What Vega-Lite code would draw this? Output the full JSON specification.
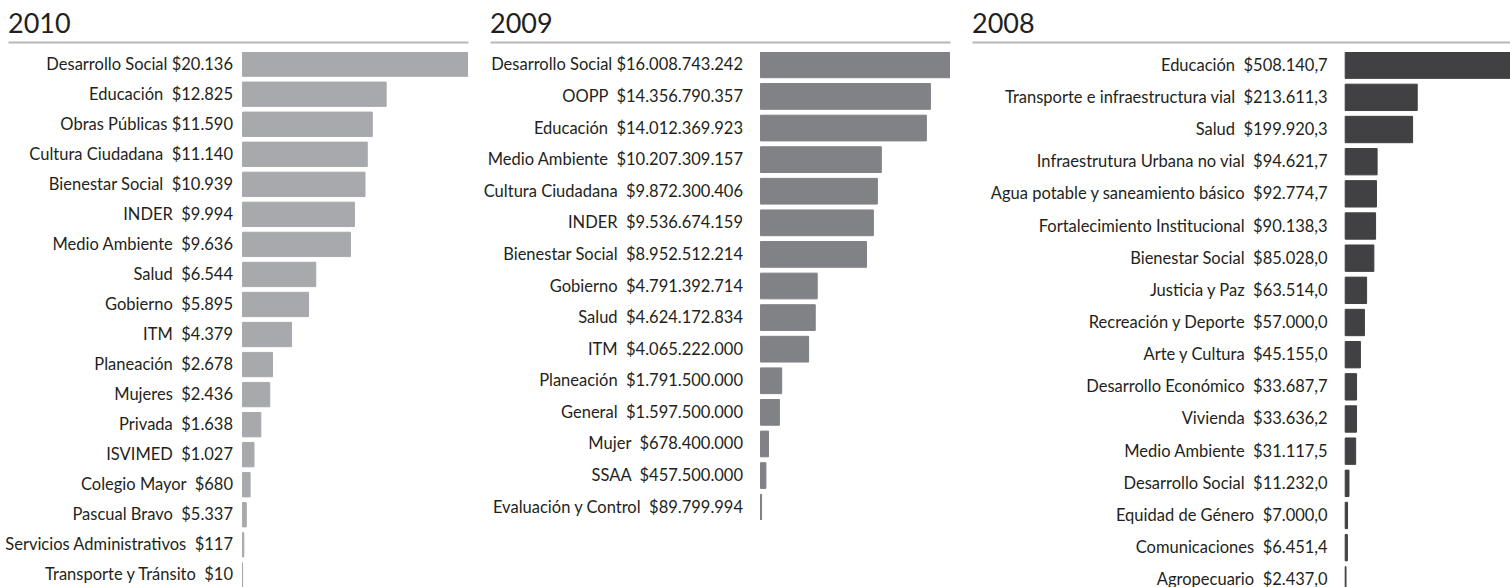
{
  "$schema": "https://vega.github.io/schema/vega-lite/v6.json",
  "padding": {"left": 4, "top": 11, "right": 0, "bottom": 0},
  "bounds": "flush",
  "spacing": 22,
  "config": {
    "view": {"stroke": null},
    "font": "Lato",
    "title": {"fontSize": 27, "fontWeight": "normal", "color": "#231f20", "font": "Lato", "anchor": "start", "frame": "group", "offset": 3}
  },
  "datasets": {
    "y2010": [
      {"area": "Desarrollo Social", "valor": 20136, "etiqueta": "Desarrollo Social $20.136"},
      {"area": "Educación", "valor": 12825, "etiqueta": "Educación\u00a0 $12.825"},
      {"area": "Obras Públicas", "valor": 11590, "etiqueta": "Obras Públicas $11.590"},
      {"area": "Cultura Ciudadana", "valor": 11140, "etiqueta": "Cultura Ciudadana\u00a0 $11.140"},
      {"area": "Bienestar Social", "valor": 10939, "etiqueta": "Bienestar Social\u00a0 $10.939"},
      {"area": "INDER", "valor": 9994, "etiqueta": "INDER\u00a0 $9.994"},
      {"area": "Medio Ambiente", "valor": 9636, "etiqueta": "Medio Ambiente\u00a0 $9.636"},
      {"area": "Salud", "valor": 6544, "etiqueta": "Salud\u00a0 $6.544"},
      {"area": "Gobierno", "valor": 5895, "etiqueta": "Gobierno\u00a0 $5.895"},
      {"area": "ITM", "valor": 4379, "etiqueta": "ITM\u00a0 $4.379"},
      {"area": "Planeación", "valor": 2678, "etiqueta": "Planeación\u00a0 $2.678"},
      {"area": "Mujeres", "valor": 2436, "etiqueta": "Mujeres\u00a0 $2.436"},
      {"area": "Privada", "valor": 1638, "etiqueta": "Privada\u00a0 $1.638"},
      {"area": "ISVIMED", "valor": 1027, "etiqueta": "ISVIMED\u00a0 $1.027"},
      {"area": "Colegio Mayor", "valor": 680, "etiqueta": "Colegio Mayor\u00a0 $680"},
      {"area": "Pascual Bravo", "valor": 337, "etiqueta": "Pascual Bravo\u00a0 $5.337"},
      {"area": "Servicios Administrativos", "valor": 117, "etiqueta": "Servicios Administrativos\u00a0 $117"},
      {"area": "Transporte y Tránsito", "valor": 10, "etiqueta": "Transporte y Tránsito\u00a0 $10"}
    ],
    "y2009": [
      {"area": "Desarrollo Social", "valor": 16008743242, "etiqueta": "Desarrollo Social $16.008.743.242"},
      {"area": "OOPP", "valor": 14356790357, "etiqueta": "OOPP\u00a0 $14.356.790.357"},
      {"area": "Educación", "valor": 14012369923, "etiqueta": "Educación\u00a0 $14.012.369.923"},
      {"area": "Medio Ambiente", "valor": 10207309157, "etiqueta": "Medio Ambiente\u00a0 $10.207.309.157"},
      {"area": "Cultura Ciudadana", "valor": 9872300406, "etiqueta": "Cultura Ciudadana\u00a0 $9.872.300.406"},
      {"area": "INDER", "valor": 9536674159, "etiqueta": "INDER\u00a0 $9.536.674.159"},
      {"area": "Bienestar Social", "valor": 8952512214, "etiqueta": "Bienestar Social\u00a0 $8.952.512.214"},
      {"area": "Gobierno", "valor": 4791392714, "etiqueta": "Gobierno\u00a0 $4.791.392.714"},
      {"area": "Salud", "valor": 4624172834, "etiqueta": "Salud\u00a0 $4.624.172.834"},
      {"area": "ITM", "valor": 4065222000, "etiqueta": "ITM\u00a0 $4.065.222.000"},
      {"area": "Planeación", "valor": 1791500000, "etiqueta": "Planeación\u00a0 $1.791.500.000"},
      {"area": "General", "valor": 1597500000, "etiqueta": "General\u00a0 $1.597.500.000"},
      {"area": "Mujer", "valor": 678400000, "etiqueta": "Mujer\u00a0 $678.400.000"},
      {"area": "SSAA", "valor": 457500000, "etiqueta": "SSAA\u00a0 $457.500.000"},
      {"area": "Evaluación y Control", "valor": 89799994, "etiqueta": "Evaluación y Control\u00a0 $89.799.994"}
    ],
    "y2008": [
      {"area": "Educación", "valor": 508140.7, "etiqueta": "Educación\u00a0 $508.140,7"},
      {"area": "Transporte e infraestructura vial", "valor": 213611.3, "etiqueta": "Transporte e infraestructura vial\u00a0 $213.611,3"},
      {"area": "Salud", "valor": 199920.3, "etiqueta": "Salud\u00a0 $199.920,3"},
      {"area": "Infraestrutura Urbana no vial", "valor": 94621.7, "etiqueta": "Infraestrutura Urbana no vial\u00a0 $94.621,7"},
      {"area": "Agua potable y saneamiento básico", "valor": 92774.7, "etiqueta": "Agua potable y saneamiento básico\u00a0 $92.774,7"},
      {"area": "Fortalecimiento Institucional", "valor": 90138.3, "etiqueta": "Fortalecimiento Institucional\u00a0 $90.138,3"},
      {"area": "Bienestar Social", "valor": 85028.0, "etiqueta": "Bienestar Social\u00a0 $85.028,0"},
      {"area": "Justicia y Paz", "valor": 63514.0, "etiqueta": "Justicia y Paz\u00a0 $63.514,0"},
      {"area": "Recreación y Deporte", "valor": 57000.0, "etiqueta": "Recreación y Deporte\u00a0 $57.000,0"},
      {"area": "Arte y Cultura", "valor": 45155.0, "etiqueta": "Arte y Cultura\u00a0 $45.155,0"},
      {"area": "Desarrollo Económico", "valor": 33687.7, "etiqueta": "Desarrollo Económico\u00a0 $33.687,7"},
      {"area": "Vivienda", "valor": 33636.2, "etiqueta": "Vivienda\u00a0 $33.636,2"},
      {"area": "Medio Ambiente", "valor": 31117.5, "etiqueta": "Medio Ambiente\u00a0 $31.117,5"},
      {"area": "Desarrollo Social", "valor": 11232.0, "etiqueta": "Desarrollo Social\u00a0 $11.232,0"},
      {"area": "Equidad de Género", "valor": 7000.0, "etiqueta": "Equidad de Género\u00a0 $7.000,0"},
      {"area": "Comunicaciones", "valor": 6451.4, "etiqueta": "Comunicaciones\u00a0 $6.451,4"},
      {"area": "Agropecuario", "valor": 2437.0, "etiqueta": "Agropecuario\u00a0 $2.437,0"}
    ]
  },
  "hconcat": [
    {
      "data": {"name": "y2010"},
      "width": 460,
      "height": 535,
      "title": {"text": "2010"},
      "encoding": {
        "y": {"field": "area", "type": "nominal", "sort": null, "axis": null, "scale": {"paddingInner": 0.19, "paddingOuter": 0}}
      },
      "layer": [
        {
          "mark": {"type": "bar", "color": "#a7a9ac", "stroke": "#a7a9ac", "strokeWidth": 1, "clip": true},
          "encoding": {
            "x": {"field": "valor", "type": "quantitative", "scale": {"domain": [-20939, 20136], "nice": false, "zero": false},
              "axis": {"orient": "top", "title": null, "labels": false, "ticks": false, "grid": false, "domainColor": "#b8b8b8", "domainWidth": 2, "offset": 10}}
          }
        },
        {
          "mark": {"type": "text", "align": "right", "baseline": "middle", "dx": -9.5, "dy": 0.5, "fontSize": 16.5, "color": "#231f20"},
          "encoding": {
            "x": {"datum": 0, "type": "quantitative",
              "axis": {"orient": "top", "title": null, "labels": false, "ticks": false, "grid": false, "domainColor": "#b8b8b8", "domainWidth": 2, "offset": 10}},
            "text": {"field": "etiqueta"}
          }
        }
      ]
    },
    {
      "data": {"name": "y2009"},
      "width": 460,
      "height": 468,
      "title": {"text": "2009"},
      "encoding": {
        "y": {"field": "area", "type": "nominal", "sort": null, "axis": null, "scale": {"paddingInner": 0.186, "paddingOuter": 0}}
      },
      "layer": [
        {
          "mark": {"type": "bar", "color": "#808285", "stroke": "#808285", "strokeWidth": 1, "clip": true},
          "encoding": {
            "x": {"field": "valor", "type": "quantitative", "scale": {"domain": [-22851530000, 16008743242], "nice": false, "zero": false},
              "axis": {"orient": "top", "title": null, "labels": false, "ticks": false, "grid": false, "domainColor": "#b8b8b8", "domainWidth": 2, "offset": 10}}
          }
        },
        {
          "mark": {"type": "text", "align": "right", "baseline": "middle", "dx": -17.5, "dy": 0.5, "fontSize": 16.5, "color": "#231f20"},
          "encoding": {
            "x": {"datum": 0, "type": "quantitative",
              "axis": {"orient": "top", "title": null, "labels": false, "ticks": false, "grid": false, "domainColor": "#b8b8b8", "domainWidth": 2, "offset": 10}},
            "text": {"field": "etiqueta"}
          }
        }
      ]
    },
    {
      "data": {"name": "y2008"},
      "width": 538,
      "height": 541,
      "title": {"text": "2008"},
      "encoding": {
        "y": {"field": "area", "type": "nominal", "sort": null, "axis": null, "scale": {"paddingInner": 0.18, "paddingOuter": 0}}
      },
      "layer": [
        {
          "mark": {"type": "bar", "color": "#414042", "stroke": "#414042", "strokeWidth": 1, "clip": true},
          "encoding": {
            "x": {"field": "valor", "type": "quantitative", "scale": {"domain": [-1106920, 488830], "nice": false, "zero": false},
              "axis": {"orient": "top", "title": null, "labels": false, "ticks": false, "grid": false, "domainColor": "#b8b8b8", "domainWidth": 2, "offset": 10}}
          }
        },
        {
          "mark": {"type": "text", "align": "right", "baseline": "middle", "dx": -17.5, "dy": 0.5, "fontSize": 16.5, "color": "#231f20"},
          "encoding": {
            "x": {"datum": 0, "type": "quantitative",
              "axis": {"orient": "top", "title": null, "labels": false, "ticks": false, "grid": false, "domainColor": "#b8b8b8", "domainWidth": 2, "offset": 10}},
            "text": {"field": "etiqueta"}
          }
        }
      ]
    }
  ]
}
